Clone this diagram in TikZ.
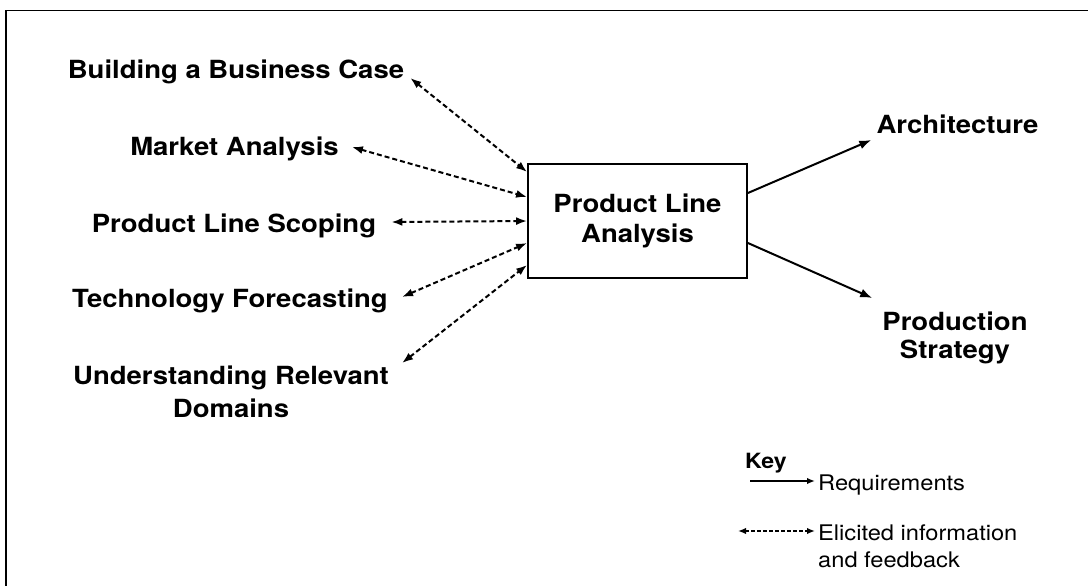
\documentclass[tikz,border=0pt]{standalone}
\usepackage{fontspec}
\setmainfont[FakeStretch=1.1]{TeX Gyre Heros}
\usetikzlibrary{arrows.meta}
\begin{document}
\begin{tikzpicture}[x=1pt,y=-1pt,
  lbl/.style={font=\bfseries\fontsize{25}{30}\selectfont, inner sep=0pt, anchor=base, align=center},
  proc/.style={draw, line width=1.8pt, minimum width=219pt, minimum height=114pt, inner sep=0pt, align=center, font=\bfseries\fontsize{25}{30}\selectfont},
  fb/.style={dash pattern=on 5pt off 3pt, line width=2pt, {Latex[length=11pt,width=8pt]}-{Latex[length=11pt,width=8pt]}},
  req/.style={line width=2pt, -{Latex[length=12pt,width=9pt]}},
  keytxt/.style={font=\fontsize{21.5}{27}\selectfont, inner sep=0pt, anchor=base west, align=left},
  keyreq/.style={line width=1.6pt, -{Latex[length=8pt,width=6.5pt]}},
  keyfb/.style={dash pattern=on 3.5pt off 2.5pt, line width=1.6pt, {Latex[length=8pt,width=6.5pt]}-{Latex[length=8pt,width=6.5pt]}},
]
\useasboundingbox (0,0) rectangle (1088,586);
\begin{scope}
\clip (0,0) rectangle (1088,586);
\draw[line width=1.8pt] (6,600) -- (6,10.5) -- (1100,10.5);
\end{scope}

% left activities
\node[lbl] (bbc) at (236,78) {Building a Business Case};
\node[lbl] (ma) at (234.5,155) {Market Analysis};
\node[lbl] (pls) at (234,232) {Product Line Scoping};
\node[lbl] (tf) at (230,307) {Technology Forecasting};
\node[lbl, font=\bfseries\fontsize{25}{33}\selectfont] (urd) at (231,417) {Understanding Relevant\\Domains};

% central box
\node[proc] (pla) at (637.5,221) {Product Line\\Analysis};

% outputs
\node[lbl] (arch) at (957.5,133) {Architecture};
\node[lbl, font=\bfseries\fontsize{25}{28}\selectfont] (ps) at (955,358) {Production\\Strategy};

% dashed connectors
\draw[fb] ([xshift=6pt]bbc.base east) -- ([yshift=49pt]pla.west);
\draw[fb] ([xshift=13pt,yshift=8pt]ma.base east) -- ([yshift=24pt]pla.west);
\draw[fb] ([xshift=15pt,yshift=10pt]pls.base east) -- (pla.west);
\draw[fb] ([xshift=14pt,yshift=10pt]tf.base east) -- ([yshift=-22pt]pla.west);
\draw[fb] ([xshift=13pt,yshift=54pt]urd.base east) -- ([yshift=-44pt]pla.west);

% solid connectors
\draw[req] ([yshift=28pt]pla.east) -- ([xshift=-5pt,yshift=-7pt]arch.base west);
\draw[req] ([yshift=-22pt]pla.east) -- ([xshift=-10pt,yshift=60pt]ps.base west);

% key
\node[font=\bfseries\fontsize{21}{25}\selectfont, inner sep=0pt, anchor=base west] (key) at (745,468) {Key};
\node[keytxt] (kreq) at (818,490) {Requirements};
\node[keytxt] (kfb) at (818,567) {Elicited information\\and feedback};
\draw[keyreq] ([xshift=-68pt,yshift=9pt]kreq.base west) -- ([xshift=-3pt,yshift=9pt]kreq.base west);
\draw[keyfb] ([xshift=-80pt,yshift=36pt]kfb.base west) -- ([xshift=-3pt,yshift=36pt]kfb.base west);
\end{tikzpicture}
\end{document}
